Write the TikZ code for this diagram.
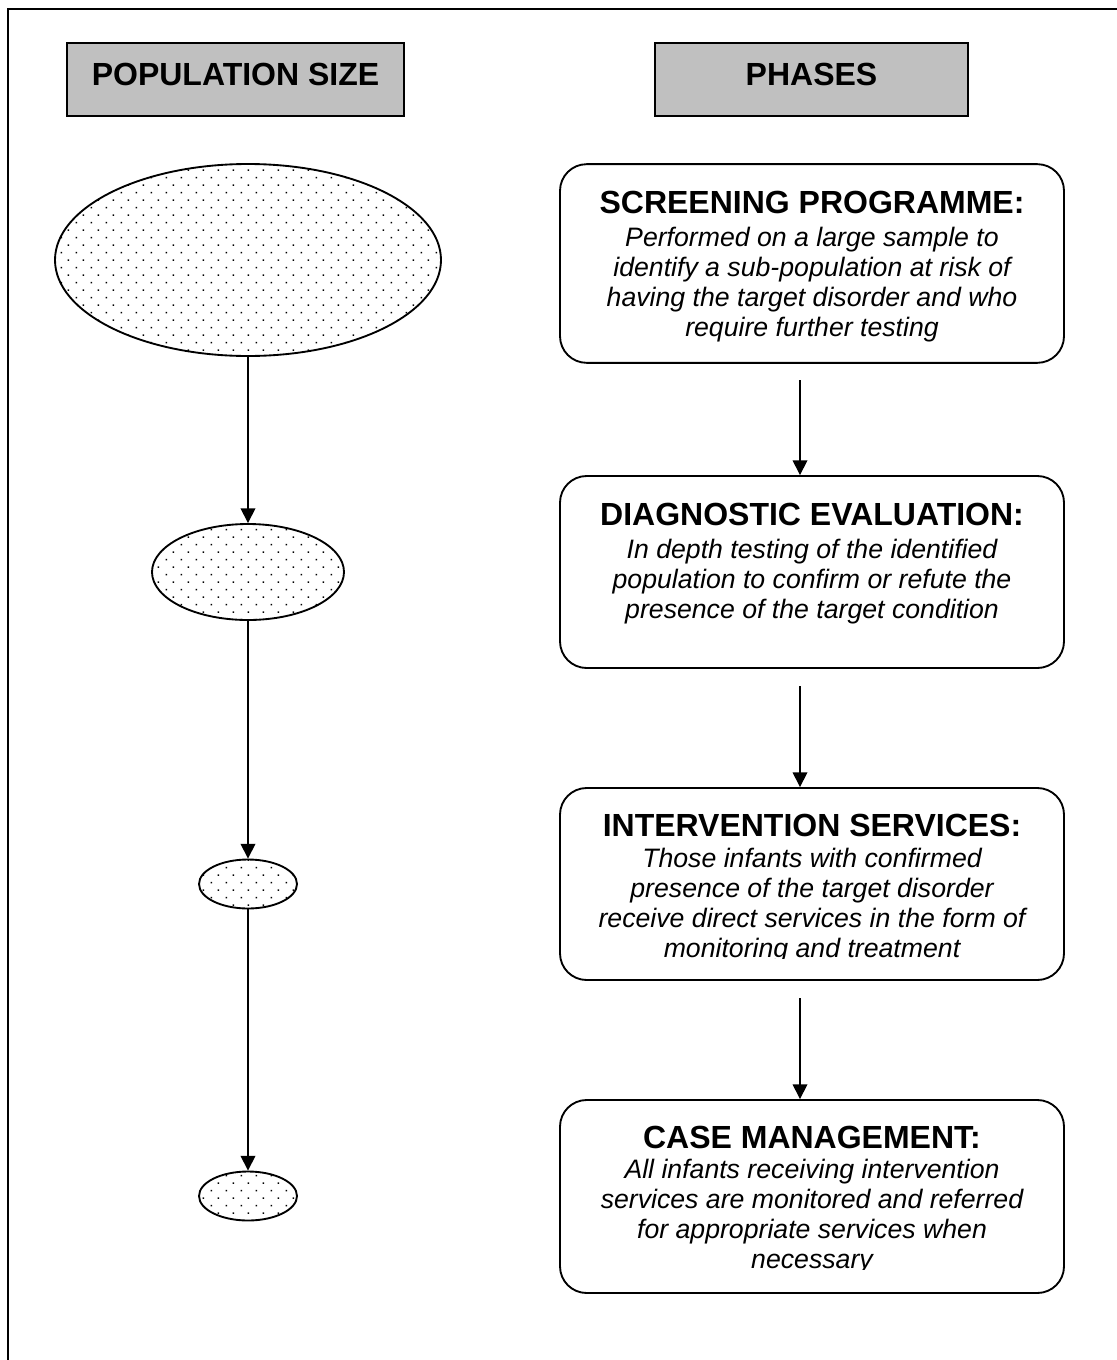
\documentclass[tikz,border=0pt]{standalone}
\usepackage{fontspec}
\setmainfont{Liberation Sans}
\usetikzlibrary{arrows.meta,shapes.geometric,patterns}

\definecolor{hdrgray}{RGB}{192,192,192}

% sparse staggered dot fill for the population ellipses
\pgfdeclarepatternformonly{popdots}{\pgfpointorigin}{\pgfpoint{11.25pt}{11.55pt}}{\pgfpoint{11.25pt}{11.55pt}}{%
  \pgfpathrectangle{\pgfpoint{0.5pt}{0.5pt}}{\pgfpoint{1.15pt}{1.15pt}}%
  \pgfpathrectangle{\pgfpoint{6.125pt}{6.275pt}}{\pgfpoint{1.15pt}{1.15pt}}%
  \pgfusepath{fill}}

\newcommand{\hdrfont}{\fontsize{24pt}{28pt}\selectfont\bfseries}
\newcommand{\phasetitle}{\fontsize{24pt}{28pt}\selectfont\bfseries}
\newcommand{\phasebody}{\fontsize{20pt}{22.5pt}\selectfont\itshape}

\begin{document}
\begin{tikzpicture}[x=0.75pt,y=-0.75pt,
  frame/.style={line width=1.5pt},
  hdr/.style={draw, line width=1.6pt, fill=hdrgray, inner sep=0pt,
              minimum height=54.75pt},
  hdrtext/.style={inner sep=0pt, font=\hdrfont},
  pop/.style={draw, ellipse, line width=1.4pt, inner sep=0pt,
              pattern=popdots, pattern color=black},
  phase/.style={draw, rounded corners=20pt, line width=1.4pt, inner sep=0pt,
                minimum width=378pt},
  ptitle/.style={anchor=base, inner sep=0pt, font=\phasetitle},
  pbody/.style={anchor=base, inner sep=0pt, align=center, font=\phasebody},
  flow/.style={-{Triangle[length=11pt,width=11pt]}, line width=1pt}]

\useasboundingbox (0,0) rectangle (1117,1360);
\clip (0,0) rectangle (1117,1360);

% outer frame (runs off the page at right and bottom)
\draw[frame] (8,9) rectangle (1140,1390);

% column headers
\node[hdr, minimum width=252.75pt] (hpop) at (235.5,79.5) {};
\node[hdrtext] (hpoptxt) at (235.5,74) {POPULATION SIZE};
\node[hdr, minimum width=234.75pt] (hph) at (811.5,79.5) {};
\node[hdrtext] (hphtxt) at (811.5,74) {PHASES};

% population ellipses
\node[pop, minimum width=289.5pt, minimum height=144pt] (e1) at (248,260) {};
\node[pop, minimum width=144pt, minimum height=72pt] (e2) at (248,572) {};
\node[pop, minimum width=73.5pt, minimum height=36.75pt] (e3) at (248,884) {};
\node[pop, minimum width=73.5pt, minimum height=36.75pt] (e4) at (248,1196) {};

\draw[flow] (e1) -- (e2);
\draw[flow] (e2) -- (e3);
\draw[flow] (e3) -- (e4);

% phase boxes
\node[phase, minimum height=149pt] (p1) at (812,263.5) {};
\node[phase, minimum height=144pt] (p2) at (812,572) {};
\node[phase, minimum height=144pt] (p3) at (812,884) {};
\node[phase, minimum height=144.75pt] (p4) at (812,1196.5) {};

% body nodes are placed by the baseline of their last line
\node[ptitle] (t1) at (812,213.5) {SCREENING PROGRAMME:};
\node[pbody] (b1) at (812,336) {Performed on a large sample to\\
  identify a sub-population at risk of\\
  having the target disorder and who\\
  require further testing};

\node[ptitle] (t2) at (812,525.5) {DIAGNOSTIC EVALUATION:};
\node[pbody] (b2) at (812,618) {In depth testing of the identified\\
  population to confirm or refute the\\
  presence of the target condition};

\node[ptitle] (t3) at (812,836.5) {INTERVENTION SERVICES:};
\begin{scope}
  \clip (560,788) rectangle (1064,958);
  \node[pbody] (b3) at (812,957) {Those infants with confirmed\\
    presence of the target disorder\\
    receive direct services in the form of\\
    monitoring and treatment};
\end{scope}

\node[ptitle] (t4) at (812,1148) {CASE MANAGEMENT:};
\begin{scope}
  \clip (560,1100) rectangle (1064,1269);
  \node[pbody] (b4) at (812,1268) {All infants receiving intervention\\
    services are monitored and referred\\
    for appropriate services when\\
    necessary};
\end{scope}

% connectors between phases
\coordinate (s1) at (800,380);
\coordinate (s2) at (800,686);
\coordinate (s3) at (800,998);
\draw[flow] (s1) -- (s1 |- p2.north);
\draw[flow] (s2) -- (s2 |- p3.north);
\draw[flow] (s3) -- (s3 |- p4.north);

\end{tikzpicture}
\end{document}
